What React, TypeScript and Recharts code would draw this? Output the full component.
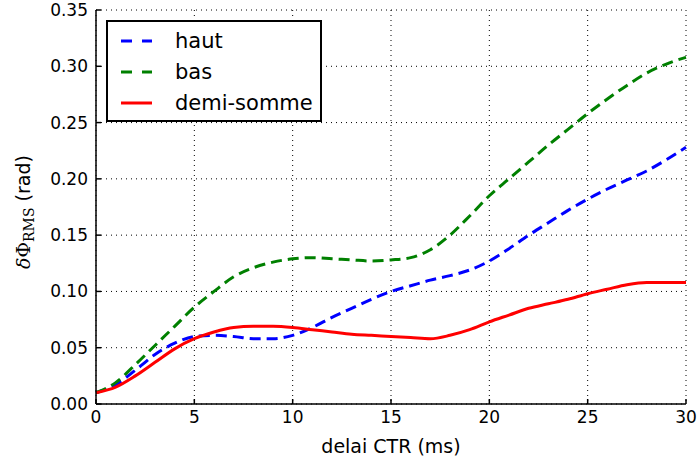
import { CartesianGrid, Label, Line, LineChart, XAxis, YAxis } from "recharts";

// delai CTR (ms), one sample per ms
const delai = [
  0, 1, 2, 3, 4, 5, 6, 7, 8, 9, 10, 11, 12, 13, 14, 15, 16, 17, 18, 19, 20,
  21, 22, 23, 24, 25, 26, 27, 28, 29, 30,
];
const haut = [
  0.01, 0.017, 0.03, 0.044, 0.054, 0.06, 0.061, 0.06, 0.058, 0.058, 0.061,
  0.068, 0.077, 0.085, 0.093, 0.1, 0.105, 0.11, 0.114, 0.119, 0.127, 0.138,
  0.15, 0.161, 0.172, 0.182, 0.191, 0.199, 0.207, 0.217, 0.228,
];
const bas = [
  0.01, 0.019, 0.035, 0.052, 0.069, 0.086, 0.1, 0.113, 0.121, 0.126, 0.129,
  0.13, 0.129, 0.128, 0.127, 0.128, 0.13, 0.137, 0.15, 0.167, 0.185, 0.2,
  0.215, 0.23, 0.244, 0.258, 0.271, 0.283, 0.294, 0.302, 0.308,
];
const demiSomme = [
  0.01, 0.015, 0.025, 0.037, 0.049, 0.058, 0.064, 0.068, 0.069, 0.069, 0.068,
  0.066, 0.064, 0.062, 0.061, 0.06, 0.059, 0.058, 0.061, 0.066, 0.073, 0.079,
  0.085, 0.089, 0.093, 0.098, 0.102, 0.106, 0.108, 0.108, 0.108,
];
const xTicks = [0, 5, 10, 15, 20, 25, 30];
const yTicks = [0, 0.05, 0.1, 0.15, 0.2, 0.25, 0.3, 0.35];

const series = [
  { key: "haut", name: "haut", color: "#0000ff", dash: "11 6" },
  { key: "bas", name: "bas", color: "#008000", dash: "11 6" },
  { key: "demi", name: "demi-somme", color: "#ff0000", dash: undefined },
];

const rows = delai.map((d, i) => ({
  d,
  haut: haut[i],
  bas: bas[i],
  demi: demiSomme[i],
}));

const FONT = "'DejaVu Sans', sans-serif";
const TICK = { fill: "#000", fontSize: 17, fontFamily: FONT };

// matplotlib-style legend box, overlaid on the plot
function LegendBox() {
  return (
    <div
      style={{
        position: "absolute",
        left: 106,
        top: 20,
        width: 216,
        height: 102,
        boxSizing: "border-box",
        border: "2px solid #000",
        background: "#fff",
        fontFamily: FONT,
        fontSize: 21,
      }}
    >
      {series.map((s, i) => (
        <div
          key={s.key}
          style={{ position: "absolute", left: 0, top: 4 + i * 31, height: 30, display: "flex", alignItems: "center" }}
        >
          <svg width={50} height={10} style={{ marginLeft: 11 }}>
            <line
              x1={2}
              x2={33}
              y1={5}
              y2={5}
              stroke={s.color}
              strokeWidth={3}
              strokeDasharray={s.dash ? "11 10" : undefined}
            />
          </svg>
          <span style={{ marginLeft: 6 }}>{s.name}</span>
        </div>
      ))}
    </div>
  );
}

function YLabel() {
  const cx = 30;
  const cy = 212;
  return (
    <text
      x={cx}
      y={cy}
      transform={`rotate(-90 ${cx} ${cy})`}
      textAnchor="middle"
      fontSize={19}
      fill="#000"
      fontFamily={FONT}
    >
      <tspan fontFamily="'DejaVu Serif', serif" fontStyle="italic">δ</tspan>
      <tspan fontFamily="'DejaVu Serif', serif">Φ</tspan>
      <tspan fontFamily="'DejaVu Serif', serif" fontSize={14} dy={4}>RMS</tspan>
      <tspan dy={-4}> (rad)</tspan>
    </text>
  );
}

function XLabel() {
  return (
    <text x={391} y={453} textAnchor="middle" fontSize={19} fill="#000" fontFamily={FONT}>
      delai CTR (ms)
    </text>
  );
}

export default function App() {
  return (
    <div style={{ position: "absolute", left: 0, top: 0, width: 698, height: 464, background: "#fff" }}>
      <LineChart
        width={698}
        height={464}
        data={rows}
        margin={{ top: 10, right: 12, bottom: 0, left: 0 }}
        style={{ fontFamily: FONT }}
      >
        <CartesianGrid stroke="#000" strokeDasharray="1 4" strokeWidth={1} />
        <XAxis
          dataKey="d"
          type="number"
          domain={[0, 30]}
          ticks={xTicks}
          height={60}
          stroke="#000"
          strokeWidth={1.5}
          tickSize={-5}
          tickMargin={12}
          tick={TICK}
        >
          <Label content={<XLabel />} />
        </XAxis>
        <XAxis
          xAxisId="top"
          orientation="top"
          dataKey="d"
          type="number"
          domain={[0, 30]}
          ticks={xTicks}
          height={0}
          stroke="#000"
          strokeWidth={1.5}
          tickSize={-5}
          tick={false}
        />
        <YAxis
          type="number"
          domain={[0, 0.35]}
          ticks={yTicks}
          width={96}
          stroke="#000"
          strokeWidth={1.5}
          tickSize={-5}
          tickMargin={13}
          tick={TICK}
          tickFormatter={(v: number) => v.toFixed(2)}
          label={<YLabel />}
        />
        <YAxis
          yAxisId="right"
          orientation="right"
          type="number"
          domain={[0, 0.35]}
          ticks={yTicks}
          width={0}
          stroke="#000"
          strokeWidth={1.5}
          tickSize={-5}
          tick={false}
        />
        {series.map((s) => (
          <Line
            key={s.key}
            dataKey={s.key}
            name={s.name}
            type="monotone"
            stroke={s.color}
            strokeWidth={3}
            strokeDasharray={s.dash}
            dot={false}
            isAnimationActive={false}
          />
        ))}
      </LineChart>
      <LegendBox />
    </div>
  );
}
